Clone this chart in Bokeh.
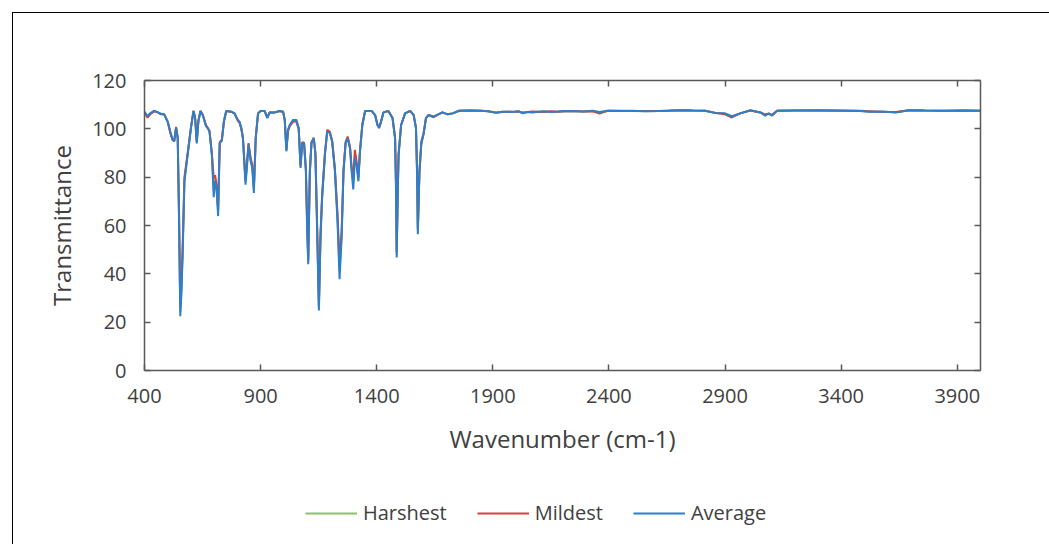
from bokeh.plotting import figure
from bokeh.layouts import column
from bokeh.models import LinearAxis, FixedTicker, Range1d, Legend, LegendItem
from bokeh.embed import file_html
from bokeh.resources import INLINE

wavenumber = [
    400, 413, 425, 442, 458, 471, 485, 500, 512, 521,
    528, 536, 543, 549, 554, 559, 564, 572, 586, 600,
    611, 618, 625, 632, 641, 651, 665, 672, 680, 690,
    698, 704, 710, 717, 724, 733, 742, 752, 773, 788,
    802, 809, 817, 824, 835, 842, 848, 857, 864, 871,
    879, 889, 900, 917, 929, 939, 961, 982, 997, 1004,
    1011, 1018, 1025, 1040, 1054, 1064, 1072, 1079, 1087, 1095,
    1100, 1105, 1112, 1119, 1129, 1136, 1144, 1151, 1158, 1165,
    1177, 1187, 1198, 1208, 1220, 1231, 1240, 1249, 1257, 1266,
    1275, 1285, 1292, 1299, 1306, 1314, 1321, 1328, 1338, 1350,
    1378, 1393, 1403, 1410, 1419, 1429, 1450, 1468, 1479, 1483,
    1486, 1490, 1494, 1505, 1522, 1544, 1559, 1569, 1574, 1577,
    1584, 1592, 1602, 1612, 1623, 1645, 1659, 1683, 1705, 1727,
    1755, 1800, 1849, 1880, 1914, 1940, 1964, 1990, 2010, 2029,
    2050, 2070, 2094, 2120, 2150, 2180, 2209, 2250, 2290, 2330,
    2360, 2380, 2396, 2450, 2500, 2560, 2612, 2660, 2713, 2760,
    2814, 2857, 2900, 2929, 2965, 3009, 3052, 3073, 3088, 3102,
    3124, 3200, 3300, 3400, 3480, 3520, 3580, 3635, 3693, 3760,
    3850, 3930, 4000,
]

average = [
    107.0, 105.3, 106.5, 107.4, 106.8, 106.2, 106.0, 103.0, 98.5, 95.5,
    94.8, 100.5, 96.0, 60.0, 22.5, 32.0, 47.0, 78.3, 89.3, 100.3,
    107.4, 104.4, 94.0, 103.0, 107.4, 105.7, 101.0, 100.3, 98.9, 89.3,
    71.7, 78.3, 75.6, 63.9, 94.1, 95.0, 103.0, 107.4, 107.1, 106.4,
    103.7, 103.0, 100.3, 96.1, 76.9, 85.2, 93.4, 86.5, 83.8, 73.5,
    96.1, 106.4, 107.4, 107.4, 104.4, 106.8, 106.8, 107.4, 107.1, 103.7,
    90.7, 99.6, 101.6, 103.7, 103.7, 100.3, 83.8, 94.1, 94.1, 82.4,
    60.0, 44.0, 82.4, 94.1, 96.1, 89.3, 55.0, 24.8, 55.0, 71.5,
    89.3, 98.9, 98.2, 94.8, 82.4, 61.9, 37.8, 55.0, 82.4, 94.1,
    96.1, 92.0, 82.4, 74.9, 87.9, 84.5, 78.3, 90.7, 101.6, 107.4,
    107.4, 105.7, 101.6, 100.3, 103.0, 106.8, 107.4, 104.4, 96.1, 75.0,
    46.8, 70.0, 89.3, 101.6, 106.4, 107.4, 105.7, 100.3, 80.0, 56.4,
    82.4, 94.8, 98.2, 104.4, 105.7, 105.1, 105.7, 106.8, 106.0, 106.4,
    107.5, 107.6, 107.5, 107.3, 106.6, 107.1, 107.1, 107.0, 107.3, 106.4,
    107.0, 106.8, 107.1, 107.3, 107.0, 107.2, 107.4, 107.3, 107.2, 107.5,
    107.0, 107.3, 107.5, 107.4, 107.5, 107.3, 107.4, 107.6, 107.7, 107.6,
    107.5, 106.5, 106.4, 105.2, 106.4, 107.7, 106.8, 105.4, 106.4, 105.4,
    107.5, 107.6, 107.6, 107.5, 107.4, 107.1, 107.2, 106.8, 107.7, 107.6,
    107.5, 107.6, 107.5,
]

mildest = [
    106.8, 104.6, 106.0, 107.3, 106.8, 106.0, 105.9, 102.8, 98.0, 95.5,
    95.0, 100.8, 96.5, 65.0, 26.0, 36.0, 50.0, 80.0, 90.0, 100.5,
    107.4, 104.6, 95.0, 103.5, 107.4, 105.8, 101.5, 100.5, 99.0, 90.0,
    79.7, 80.8, 77.0, 67.0, 94.5, 95.5, 103.2, 107.4, 107.1, 106.3,
    103.3, 102.5, 100.0, 96.0, 79.0, 87.0, 94.1, 88.0, 85.0, 76.0,
    96.5, 106.4, 107.4, 107.4, 104.8, 106.8, 106.8, 107.4, 107.0, 103.5,
    91.5, 99.0, 101.0, 103.0, 103.0, 100.0, 85.0, 94.3, 94.3, 83.5,
    63.0, 46.0, 82.0, 94.5, 96.3, 90.0, 58.0, 27.0, 57.0, 72.8,
    90.0, 99.6, 98.8, 95.2, 83.5, 65.0, 44.7, 58.0, 83.0, 94.5,
    96.8, 92.5, 84.0, 79.7, 91.3, 86.0, 80.0, 91.0, 101.8, 107.4,
    107.4, 105.7, 101.8, 100.5, 103.2, 106.8, 107.4, 104.6, 96.5, 78.0,
    49.0, 72.0, 89.0, 101.6, 106.4, 107.4, 105.8, 100.5, 82.0, 59.0,
    82.0, 93.5, 98.0, 104.4, 105.7, 104.8, 105.7, 106.8, 106.0, 106.4,
    107.5, 107.6, 107.5, 107.3, 106.8, 107.0, 107.1, 107.1, 107.2, 106.8,
    107.0, 107.2, 107.1, 107.0, 107.3, 107.1, 107.3, 107.4, 107.2, 107.3,
    106.3, 107.0, 107.5, 107.5, 107.4, 107.4, 107.4, 107.5, 107.7, 107.6,
    107.5, 106.7, 106.0, 104.7, 106.4, 107.6, 106.8, 106.0, 106.2, 105.8,
    107.5, 107.6, 107.7, 107.6, 107.5, 107.3, 107.0, 107.0, 107.7, 107.6,
    107.5, 107.6, 107.5,
]

harshest = [
    107.0, 105.0, 106.3, 107.4, 106.8, 106.1, 106.0, 102.9, 98.3, 95.5,
    94.9, 100.6, 96.2, 62.0, 24.0, 34.0, 48.5, 79.0, 89.6, 100.4,
    107.4, 104.5, 94.5, 103.2, 107.4, 105.7, 101.2, 100.4, 98.9, 89.6,
    75.0, 79.5, 76.3, 65.5, 94.3, 95.2, 103.1, 107.4, 107.1, 106.4,
    103.5, 102.8, 100.2, 96.1, 78.0, 86.0, 93.7, 87.2, 84.4, 74.8,
    96.3, 106.4, 107.4, 107.4, 104.6, 106.8, 106.8, 107.4, 107.1, 103.6,
    91.1, 99.3, 101.3, 103.4, 103.4, 100.2, 84.4, 94.2, 94.2, 83.0,
    61.5, 45.0, 82.2, 94.3, 96.2, 89.6, 56.5, 26.0, 56.0, 72.1,
    89.6, 99.2, 98.5, 95.0, 83.0, 63.5, 41.0, 56.5, 82.7, 94.3,
    96.4, 92.2, 83.2, 77.3, 89.6, 85.2, 79.1, 90.8, 101.7, 107.4,
    107.4, 105.7, 101.7, 100.4, 103.1, 106.8, 107.4, 104.5, 96.3, 76.5,
    47.9, 71.0, 89.1, 101.6, 106.4, 107.4, 105.7, 100.4, 81.0, 57.7,
    82.2, 94.1, 98.1, 104.4, 105.7, 105.0, 105.7, 106.8, 106.0, 106.4,
    107.5, 107.6, 107.5, 107.3, 106.7, 107.1, 107.1, 107.0, 107.2, 106.6,
    107.0, 107.0, 107.1, 107.2, 107.1, 107.1, 107.3, 107.3, 107.2, 107.4,
    106.6, 107.1, 107.5, 107.4, 107.4, 107.3, 107.4, 107.5, 107.7, 107.6,
    107.5, 106.6, 106.2, 105.0, 106.4, 107.6, 106.8, 105.7, 106.3, 105.6,
    107.5, 107.6, 107.6, 107.5, 107.4, 107.2, 107.1, 106.9, 107.7, 107.6,
    107.5, 107.6, 107.5,
]

x_ticks = [400, 900, 1400, 1900, 2400, 2900, 3400, 3900]
y_ticks = [0, 20, 40, 60, 80, 100, 120]

series_names = ["Harshest", "Mildest", "Average"]
series_colors = ["#8CC168", "#D9403C", "#2E7FCB"]

FONT = "Open Sans"
TEXT = "#404040"
AXIS = "#595959"

# ---------------- main chart ----------------
p = figure(width=1049, height=470, output_backend="svg", toolbar_location=None,
           x_range=Range1d(400, 4000), y_range=Range1d(0, 120),
           min_border_left=144, min_border_right=69, min_border_top=80,
           min_border_bottom=100,
           x_axis_label="Wavenumber (cm-1)", y_axis_label="Transmittance")
# outer chart-area border (top and left edges) drawn as a CSS background
p.styles = {
    "background-color": "white",
    "background-image": "linear-gradient(#000000, #000000), linear-gradient(#000000, #000000)",
    "background-size": "100% 1px, 1px 100%",
    "background-position": "12px 12px, 12px 12px",
    "background-repeat": "no-repeat",
}
p.xgrid.visible = False
p.ygrid.visible = False
p.outline_line_color = None
p.background_fill_color = "white"
p.border_fill_color = None

series_data = [harshest, mildest, average]
for data, color in zip(series_data, series_colors):
    p.line(wavenumber, data, line_color=color, line_width=2)

xa = p.xaxis[0]
xa.ticker = FixedTicker(ticks=x_ticks)
ya = p.yaxis[0]
ya.ticker = FixedTicker(ticks=y_ticks)
for ax in (xa, ya):
    ax.axis_line_color = AXIS
    ax.axis_line_width = 1.5
    ax.major_tick_line_color = AXIS
    ax.major_tick_line_width = 1.5
    ax.major_tick_in = 6
    ax.major_tick_out = 0
    ax.minor_tick_line_color = None
    ax.major_label_text_font = FONT
    ax.major_label_text_font_size = "20px"
    ax.major_label_text_color = TEXT
    ax.axis_label_text_font = FONT
    ax.axis_label_text_font_size = "24px"
    ax.axis_label_text_font_style = "normal"
    ax.axis_label_text_color = TEXT
xa.major_label_standoff = 18
xa.axis_label_standoff = 16
ya.major_label_standoff = 18
ya.axis_label_standoff = 11

top = LinearAxis(ticker=FixedTicker(ticks=x_ticks))
right = LinearAxis(ticker=FixedTicker(ticks=y_ticks))
for ax in (top, right):
    ax.axis_line_color = AXIS
    ax.axis_line_width = 1.5
    ax.major_tick_line_color = AXIS
    ax.major_tick_line_width = 1.5
    ax.major_tick_in = 6
    ax.major_tick_out = 0
    ax.minor_tick_line_color = None
    ax.major_label_text_color = None
    ax.major_label_text_font_size = "1px"
p.add_layout(top, "above")
p.add_layout(right, "right")

# ---------------- legend strip below ----------------
leg = figure(width=1049, height=74, output_backend="svg", toolbar_location=None,
             x_range=Range1d(0, 1), y_range=Range1d(0, 1),
             x_axis_location=None, y_axis_location=None,
             min_border=0, min_border_left=0, min_border_right=0,
             min_border_top=0, min_border_bottom=0)
leg.styles = {
    "background-color": "white",
    "background-image": "linear-gradient(#000000, #000000)",
    "background-size": "1px 100%",
    "background-position": "12px 0px",
    "background-repeat": "no-repeat",
}
leg.xgrid.visible = False
leg.ygrid.visible = False
leg.outline_line_color = None
leg.background_fill_color = None
leg.border_fill_color = None

# legend entries: the same series, lying outside this strip's ranges (not visible)
proxies = [leg.line(wavenumber, data, line_color=c, line_width=2)
           for data, c in zip(series_data, series_colors)]
legend = Legend(
    items=[LegendItem(label=n, renderers=[r]) for n, r in zip(series_names, proxies)],
    orientation="horizontal", location=(161, 18),
    glyph_width=52, glyph_height=20, label_standoff=6, spacing=30,
    padding=0, margin=0, border_line_color=None, background_fill_alpha=0,
    label_text_font=FONT, label_text_font_size="20px", label_text_color=TEXT,
)
leg.add_layout(legend, "center")

page = column(p, leg, spacing=0)
open("out.html", "w").write(file_html(page, INLINE))
